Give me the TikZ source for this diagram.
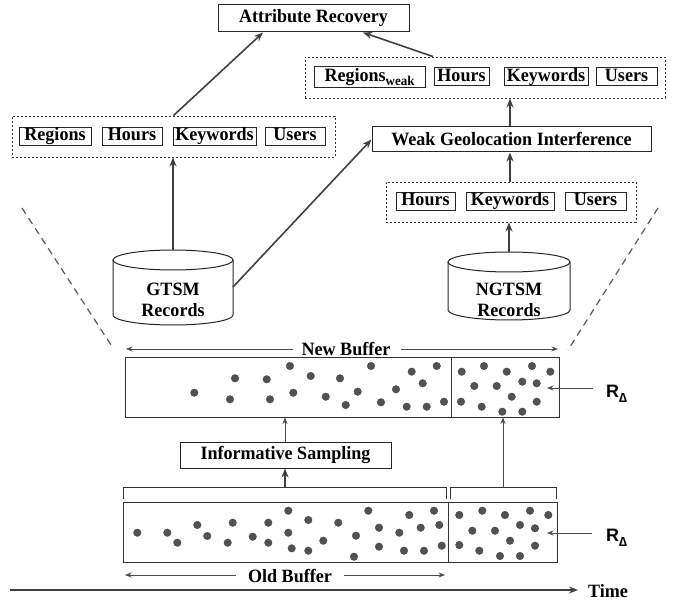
\documentclass[tikz,border=0pt]{standalone}
\usepackage{fontspec}
\setmainfont{Liberation Serif}[FakeStretch=0.96]
\setsansfont{Liberation Sans}
\usetikzlibrary{arrows.meta}
\begin{document}
\begin{tikzpicture}[x=1pt,y=-1pt,
  txt/.style={font=\fontsize{18.8}{21}\selectfont\bfseries},
  bx/.style={draw=black!85, line width=1pt, inner sep=0pt, txt, text height=12.5pt, text depth=4pt, minimum height=18pt},
  bigbx/.style={draw=black!85, line width=1pt, inner sep=0pt, txt},
  grp/.style={draw=black!80, line width=0.9pt, dash pattern=on 2.2pt off 1.8pt, inner sep=0pt},
  thk/.style={draw=black!75, line width=1.6pt, -{Stealth[length=9pt,width=7pt]}},
  thn/.style={draw=black!70, line width=0.7pt, -{Stealth[length=6.5pt,width=5pt]}},
  cyl/.style={draw=black!85, line width=1pt},
  buf/.style={draw=black!80, line width=1pt, inner sep=0pt},
  brk/.style={draw=black!80, line width=1pt},
  diag/.style={draw=black!65, line width=1.2pt, dash pattern=on 7pt off 5pt},
  dot/.style={fill=black!68, draw=black!75, line width=0.3pt},
  rlab/.style={font=\sffamily\bfseries\fontsize{18}{18}\selectfont, anchor=base west, inner sep=0pt}
]
\useasboundingbox (0,0) rectangle (678,604);

% ---- top part ----
\node[bigbx, minimum width=191pt, minimum height=27pt] (AR) at (313.5,18.5) {Attribute Recovery};

\node[grp, minimum width=360pt, minimum height=41pt] (gR) at (485,77.5) {};
\node[bx, minimum width=111pt, minimum height=21pt] (rw) at (369.5,77.5) {Regions\raisebox{-4pt}{\fontsize{13.5}{13.5}\selectfont weak}};
\node[bx, minimum width=55pt] (hR) at (461.5,77) {Hours};
\node[bx, minimum width=84pt] (kR) at (546,77) {Keywords};
\node[bx, minimum width=61pt] (uR) at (626.5,77) {Users};

\node[grp, minimum width=323pt, minimum height=41pt] (gL) at (173.5,136.5) {};
\node[bx, minimum width=72pt] (rL) at (55,136.5) {Regions};
\node[bx, minimum width=60pt] (hL) at (132,136.5) {Hours};
\node[bx, minimum width=83pt] (kL) at (214.5,136.5) {Keywords};
\node[bx, minimum width=60pt] (uL) at (295,136.5) {Users};

\node[bigbx, minimum width=279pt, minimum height=25pt] (WG) at (511.5,139.5) {Weak Geolocation Interference};

\node[grp, minimum width=250pt, minimum height=40pt] (gB) at (511,202) {};
\node[bx, minimum width=59pt] (hB) at (425.5,201.5) {Hours};
\node[bx, minimum width=88pt] (kB) at (510,201.5) {Keywords};
\node[bx, minimum width=61pt] (uB) at (595.5,201.5) {Users};

% cylinders
\draw[cyl] (113,260) -- (113,315) arc[start angle=180, end angle=0, x radius=60, y radius=10] -- (233,260);
\draw[cyl] (173,260) ellipse [x radius=60, y radius=10];
\node[txt, align=center, inner sep=0pt] (gtsm) at (173,300) {GTSM\\Records};
\coordinate (gtsmTop) at (173,250);
\coordinate (gtsmR) at (233,287);

\draw[cyl] (448,262) -- (448,310) arc[start angle=180, end angle=0, x radius=61, y radius=10] -- (570,262);
\draw[cyl] (509,262) ellipse [x radius=61, y radius=10];
\node[txt, align=center, inner sep=0pt] (ngtsm) at (509,300) {NGTSM\\Records};
\coordinate (ngtsmTop) at (509,252);

% connectors top
\draw[thk] (gL.north) -- ([xshift=-50.5pt]AR.south);
\draw[thk] ([xshift=-52pt]gR.north) -- ([xshift=49.5pt]AR.south);
\draw[thk] ([xshift=-1.5pt]WG.north) -- ([xshift=-1.5pt]WG.north |- gR.south);
\draw[thk] ([xshift=-1pt]gB.north) -- ([xshift=-1pt]gB.north |- WG.south);
\draw[thk] (gtsmTop) -- (gtsmTop |- gL.south);
\draw[thk] (gtsmR) -- (WG.west);
\draw[thk] (ngtsmTop) -- (ngtsmTop |- gB.south);

% dashed diagonals
\coordinate (dl1) at (22,208); \coordinate (dl2) at (113,348);
\coordinate (dr1) at (658,208); \coordinate (dr2) at (568,350);
\draw[diag] (dl1) -- (dl2);
\draw[diag] (dr1) -- (dr2);

% ---- new buffer ----
\node[txt, inner sep=0pt] (nbt) at (346,348.5) {New Buffer};
\coordinate (nbL) at (126,349); \coordinate (nbR) at (558,349);
\draw[thn] ([xshift=-8pt,yshift=-0.5pt]nbt.west) -- (nbL);
\draw[thn] ([xshift=10pt,yshift=-0.5pt]nbt.east) -- (nbR);
\node[buf, minimum width=434pt, minimum height=60pt] (NB) at (342,387) {};
\draw[buf] (451,357) -- (451,417);
\foreach \p in {(194.3,392.7),(235,378.3),(230,399.3),(266.7,379.3),(270,399.3),(290,366),(293.3,392.7),(310.7,376),(325.7,396.7),(340,378.3),(345.7,405),(357.7,391.7),(371,366),(381,402.3),(396,389.3),(411.7,371.7),(436.7,366),(422.7,383.3),(406.7,406.7),(426.7,406.7),(444,401.7),
(461.7,371.7),(484,366),(506.7,371.7),(532,366),(550.3,371.7),(474.3,386),(496.7,386),(522.3,381.7),(536.7,383.3),(511.7,396.7),(536.7,401.7),(461,401.7),(481.7,406.7),(502.3,411.7),(522.3,411.7)}
  \filldraw[dot] \p circle[radius=3.8];
\node[rlab] (r1) at (606,397) {R\raisebox{-5pt}{\fontsize{13}{13}\selectfont ∆}};
\coordinate (r1a) at (593,388);
\draw[thn] (r1a) -- (547,388);

\node[bigbx, minimum width=211pt, minimum height=26pt] (IS) at (285.5,455) {Informative Sampling};
\draw[thn] ([xshift=-0.5pt]IS.north) -- ([xshift=-0.5pt]IS.north |- NB.south);

% brackets
\draw[brk] (123,499) -- (123,487) -- (446,487) -- (446,499);
\draw[brk] (450,499) -- (450,487) -- (556,487) -- (556,499);
\coordinate (lb) at (285,487);
\coordinate (rb) at (503,487);
\draw[thk] (lb) -- (lb |- IS.south);
\draw[thn] (rb) -- (rb |- NB.south);

% ---- old buffer ----
\node[buf, minimum width=434pt, minimum height=60pt] (OB) at (340,532) {};
\draw[buf] (448,502) -- (448,562);
\foreach \p in {(137.3,532.7),(167.3,532.7),(177.3,542.7),(197.3,525),(207.3,536),(227.7,542.7),(232.7,522.7),(252.7,536.7),(268.3,522.7),(268.3,542.7),(288.3,510.7),(288.3,532.7),(291.7,548.3),(308.3,520),(308.3,550.7),(323.3,540.7),(338.3,522.7),(356,535.7),(354,556.7),(368.3,510.7),(379,527.7),(379,546.7),(399.3,532.7),(409.3,515),(434,510.7),(420.7,527.7),(439.3,525),(404,550.7),(424,550.7),(441.7,545.7),
(459.3,515),(482.3,510.7),(505,515),(530,510.7),(548.3,515),(472.3,530.7),(495,530.7),(520,525),(535,528.3),(510,540.7),(459.3,545),(479.3,550.7),(500,556),(520,556),(535,545.7)}
  \filldraw[dot] \p circle[radius=3.8];
\node[rlab] (r2) at (606,541) {R\raisebox{-5pt}{\fontsize{13}{13}\selectfont ∆}};
\coordinate (r2a) at (592,533);
\draw[thn] (r2a) -- (547,533);

\node[txt, inner sep=0pt] (obt) at (290,576) {Old Buffer};
\coordinate (obL) at (125,575); \coordinate (obR) at (445,575);
\draw[thn] ([xshift=-12pt,yshift=1pt]obt.west) -- (obL);
\draw[thn] ([xshift=12pt,yshift=1pt]obt.east) -- (obR);

% time axis
\node[txt, anchor=west, inner sep=0pt] (time) at (588,591) {Time};
\coordinate (t0) at (10,590);
\draw[thk] (t0) -- ([xshift=-10pt]time.west |- t0);
\end{tikzpicture}
\end{document}
